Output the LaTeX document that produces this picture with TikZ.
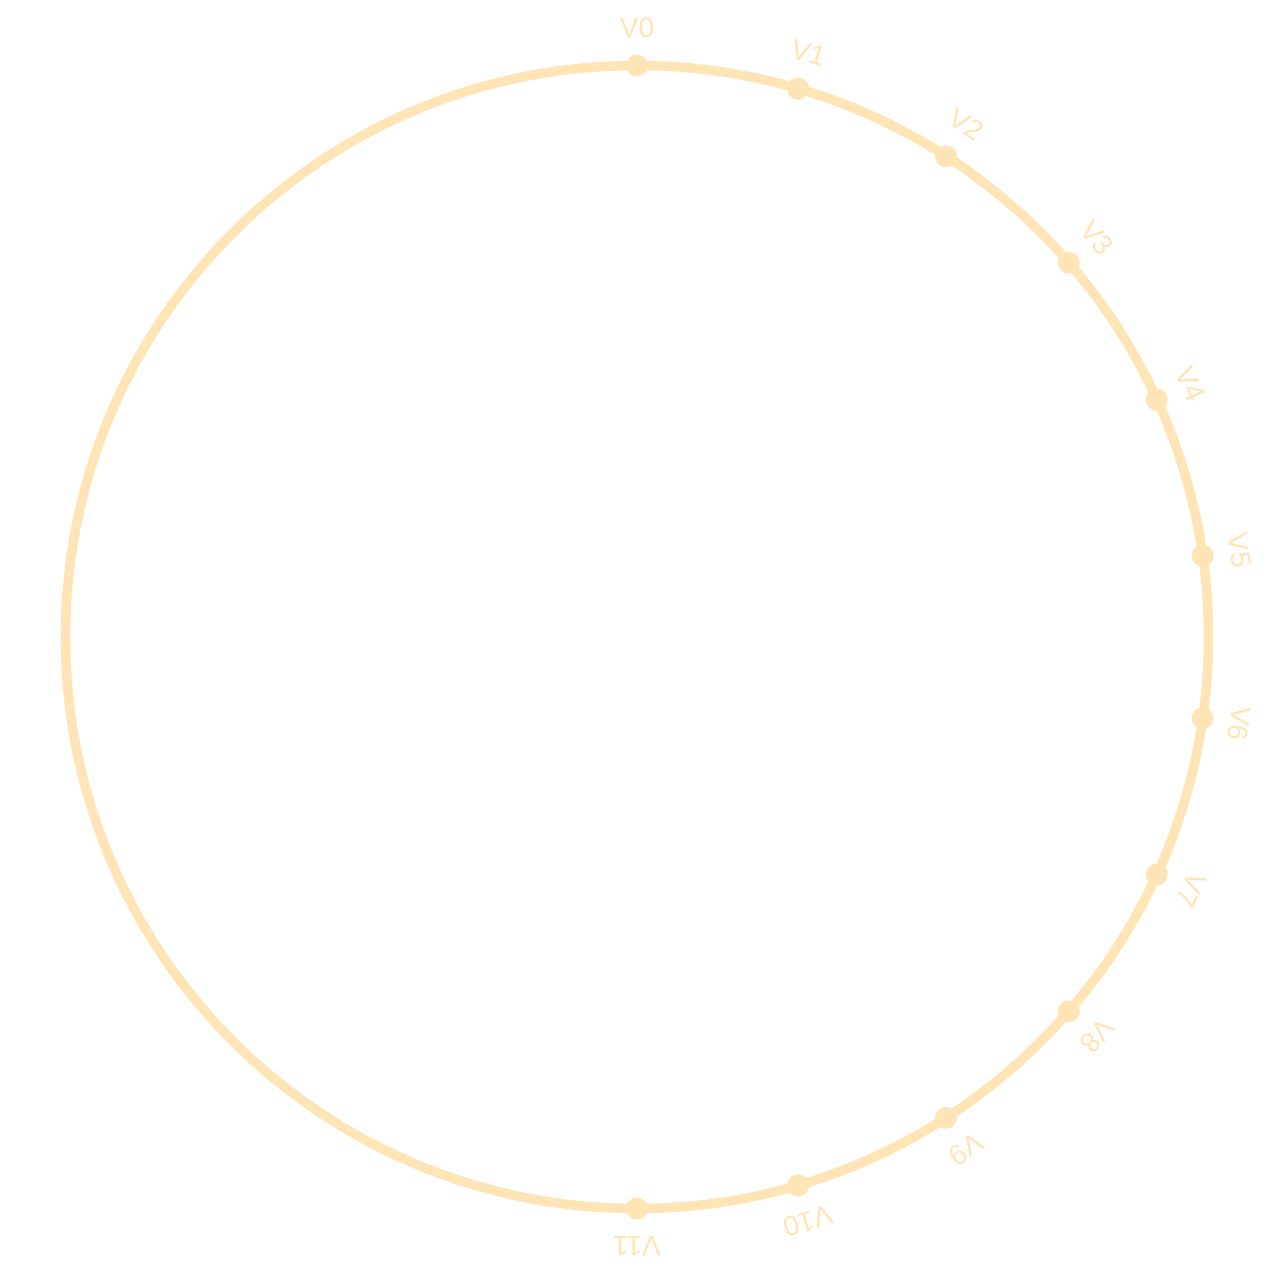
\documentclass[tikz,border=0pt]{standalone}
\usepackage{fontspec}
\setmainfont{Liberation Sans}
\newfontfamily\labfont{Liberation Sans}
\definecolor{ring}{HTML}{FFE4B5}
\begin{document}
\begin{tikzpicture}[x=0.02cm,y=0.02cm,
  vdot/.style={circle,fill=ring,inner sep=0pt,minimum size=0.44cm},
  vlab/.style={text=ring,font=\labfont\fontsize{16}{17}\selectfont,inner sep=0pt}]
\useasboundingbox (-637,-639) rectangle (639,637);
\draw[ring,line width=0.19cm] (0,0) circle (571.5);
\foreach \i in {0,...,11}{
  \pgfmathsetmacro{\a}{90-\i*180/11}
  \pgfmathsetmacro{\r}{-\i*180/11}
  \node[vdot] (v\i) at (\a:571.5) {};
  \node[vlab,rotate=\r] (l\i) at (\a:609) {V\i};
}
\end{tikzpicture}
\end{document}
